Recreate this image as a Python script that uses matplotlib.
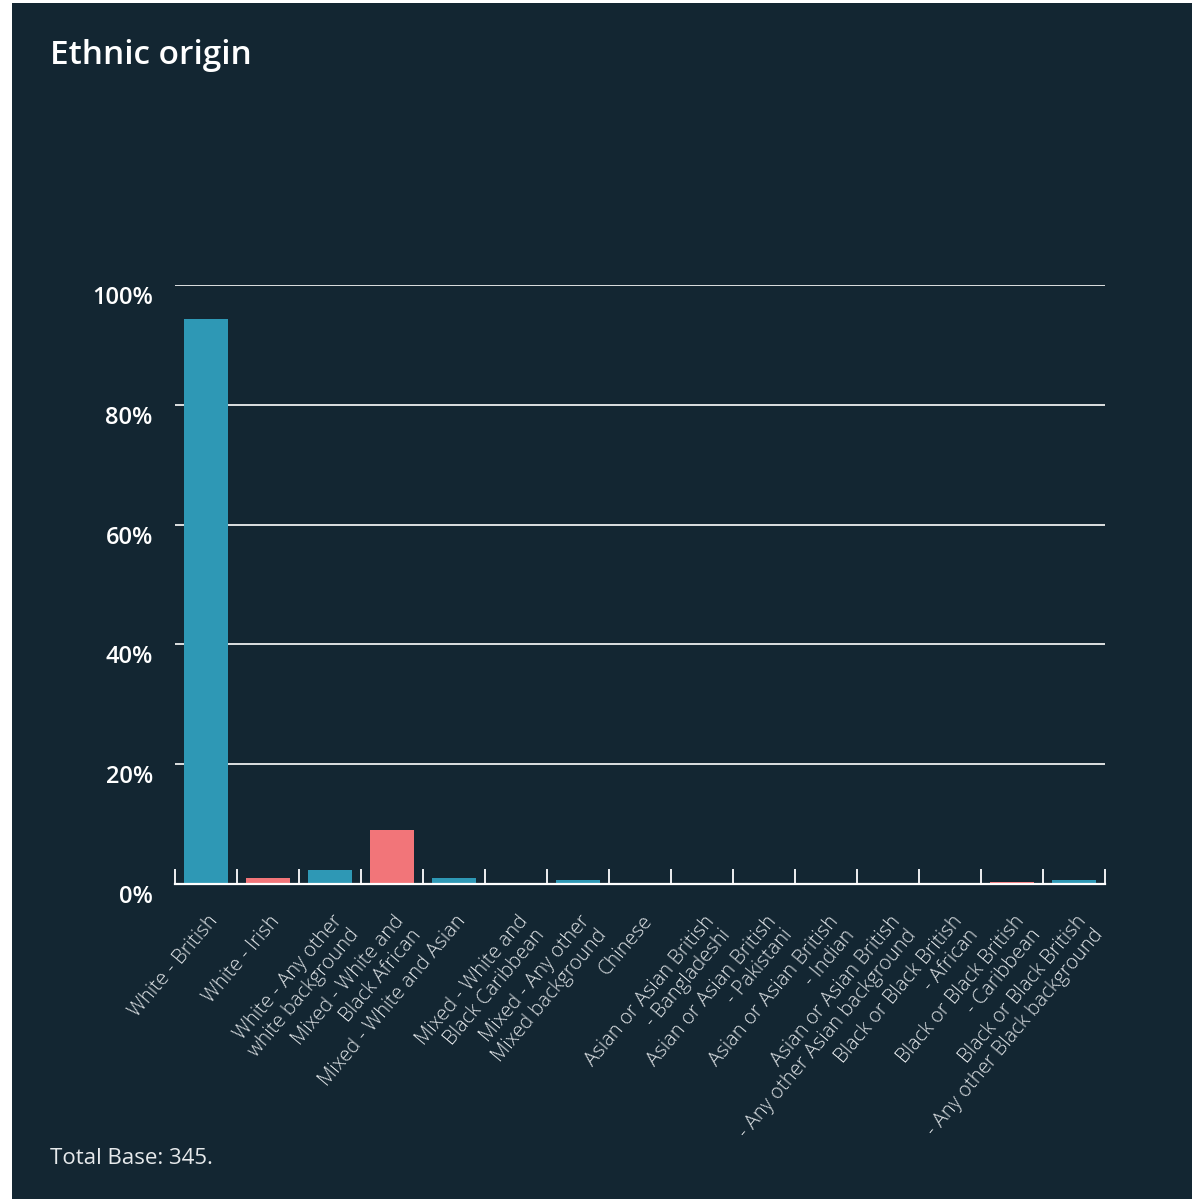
import matplotlib.pyplot as plt
from matplotlib.patches import Rectangle
from matplotlib.ticker import FixedLocator, FuncFormatter
from matplotlib.transforms import ScaledTranslation
import numpy as np

# Ethnic origin survey results (percent of respondents)
categories = [
    "White - British",
    "White - Irish",
    "White - Any other\nwhite background",
    "Mixed - White and\nBlack African",
    "Mixed - White and Asian",
    "Mixed - White and\nBlack Caribbean",
    "Mixed - Any other\nMixed background",
    "Chinese",
    "Asian or Asian British\n- Bangladeshi",
    "Asian or Asian British\n- Pakistani",
    "Asian or Asian British\n- Indian",
    "Asian or Asian British\n- Any other Asian background",
    "Black or Black British\n- African",
    "Black or Black British\n- Caribbean",
    "Black or Black British\n- Any other Black background",
]
percentages = [94.3, 1.0, 2.3, 9.0, 1.0, 0.0, 0.6, 0.0, 0.0, 0.0, 0.0, 0.0, 0.0, 0.3, 0.6]
y_ticks = [0, 20, 40, 60, 80, 100]
title = "Ethnic origin"
footnote = "Total Base: 345."

BG = "#132632"
TEAL = "#2e98b5"
PINK = "#f27579"
FONT = "Open Sans"

fig = plt.figure(figsize=(11.92, 11.99), dpi=100, facecolor="white")
fig.patches.append(Rectangle((12 / 1192, 0), 1 - 12 / 1192, 1 - 3 / 1199,
                             transform=fig.transFigure, facecolor=BG,
                             edgecolor="none", zorder=-10))

ax = fig.add_axes([175 / 1192, 1 - 884 / 1199, 930 / 1192, 599 / 1199])
ax.set_facecolor("none")

x = np.arange(len(categories))
colors = [TEAL if i % 2 == 0 else PINK for i in x]
ax.bar(x, percentages, width=0.72, color=colors, zorder=3)

ax.set_xlim(-0.5, len(categories) - 0.5)
ax.set_ylim(0, 100)

# horizontal gridlines
for v in y_ticks[1:]:
    ax.axhline(v, color="white", lw=1.2, zorder=1)

ax.yaxis.set_major_locator(FixedLocator(y_ticks))
ax.yaxis.set_major_formatter(FuncFormatter(lambda v, _: f"{v:.0f}%"))
ax.tick_params(axis="y", length=0, pad=16, labelcolor="white", labelsize=17)
shift = ScaledTranslation(0, -0.1, fig.dpi_scale_trans)
for lab in ax.get_yticklabels():
    lab.set_fontfamily(FONT)
    lab.set_fontweight("semibold")
    lab.set_transform(lab.get_transform() + shift)

# category boundary ticks pointing up from the baseline
ax.set_xticks(np.arange(-0.5, len(categories)))
ax.tick_params(axis="x", direction="in", length=11, width=1.3, color="white",
               labelbottom=False)
for side in ["top", "right", "left"]:
    ax.spines[side].set_visible(False)
ax.spines["bottom"].set_color("white")
ax.spines["bottom"].set_linewidth(1.6)
ax.spines["bottom"].set_zorder(4)

# rotated category labels, lines right-aligned
for i, name in enumerate(categories):
    ax.text(i + 0.02, -0.046, name, transform=ax.get_xaxis_transform(),
            rotation=50, rotation_mode="anchor", ha="right", va="top",
            multialignment="right", color="#dfe3e6", fontsize=14.5,
            fontfamily=FONT, fontweight="light", linespacing=1.1)

fig.text(50 / 1192, 1 - 55 / 1199, title, color="white", fontsize=24,
         fontfamily=FONT, fontweight="semibold", va="center", ha="left")
fig.text(50 / 1192, 1 - 1159 / 1199, footnote, color="#e6e9eb", fontsize=16,
         fontfamily=FONT, va="center", ha="left")

fig.savefig("out.png", dpi=100, facecolor="white")
